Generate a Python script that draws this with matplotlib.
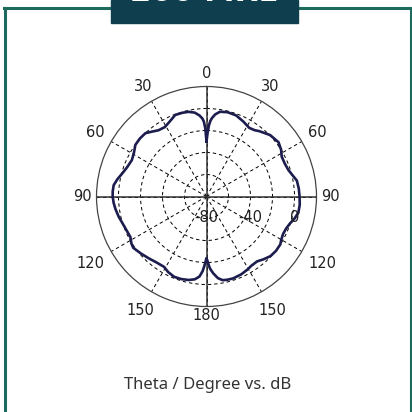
import numpy as np
import matplotlib
matplotlib.use('Agg')
import matplotlib.pyplot as plt
from matplotlib.lines import Line2D
from matplotlib.patches import Rectangle

# 방사 패턴 데이터 (theta: 도, gain: dB)
theta_deg = [0, 1, 2, 3, 4, 6, 9, 14, 20, 26, 32, 36, 39, 46, 53, 58, 62, 67, 72, 76,
             80, 85, 90, 95, 100, 104, 108, 112, 116, 120, 123, 128, 133, 138, 142, 147,
             151, 156, 162, 166, 169, 172, 175, 177, 178, 179, 180, 181, 182, 183, 185,
             188, 192, 197, 202, 207, 211, 217, 223, 229, 235, 238, 242, 250, 257, 262,
             266, 270, 273, 277, 281, 285, 290, 296, 301, 306, 311, 316, 320, 324, 329,
             334, 339, 344, 348, 352, 355, 357, 358, 359, 360]
gain_db = [-30, -22, -15, -11, -8.5, -5, -2, -1, -1.5, -4, -6.5, -5.5, -3.6, 0.4, 2, 0,
           -2.6, -2.8, -1.8, 0.5, 3.4, 4.2, 4.6, 5.1, 4.8, 2.5, -0.3, -2, -2.5, -1.5, 0,
           0.2, -0.5, -3, -5.2, -5, -3.8, -2.5, -1.7, -2, -2.5, -5, -9.9, -14, -17, -21,
           -24, -20, -16, -12, -7, -4, -2.4, -1.5, -1.3, -3, -5.3, -4.8, -3.1, -1, 1.3,
           0.5, -1.6, -0.5, 1.9, 3.5, 4.6, 5.3, 5.4, 5, 2.5, -0.4, -3, -4.5, -3, -0.1,
           0.3, 0, -3, -5.6, -6.4, -4, -0.6, -0.8, -1.3, -3, -6, -9, -12, -18, -30]

theta_ticks = [0, 30, 60, 90, 120, 150, 180, 210, 240, 270, 300, 330]
theta_labels = ['0', '30', '60', '90', '120', '150', '180', '150', '120', '90', '60', '30']
r_grid = [-60, -40, -20, 0]
r_labels = [-80, -40, 0]
r_min, r_max = -80, 20

header_text = '200 MHz'
caption = 'Theta / Degree vs. dB'

W = 412
fig = plt.figure(figsize=(4.12, 4.12), dpi=100)
fig.patch.set_facecolor('white')

# 카드 테두리
green = '#1d6b5c'
def px(x, y):
    return x / W, 1 - y / W
fig.add_artist(Line2D([px(4.5, 0)[0], px(4.5, 0)[0]], [px(0, 7.5)[1], 0], color=green, lw=2.2))
fig.add_artist(Line2D([px(410.5, 0)[0], px(410.5, 0)[0]], [px(0, 7.5)[1], 0], color=green, lw=2.2))
fig.add_artist(Line2D([px(3.5, 0)[0], 1], [px(0, 7.5)[1], px(0, 7.5)[1]], color=green, lw=2.2))

# 상단 헤더 박스 (제목은 위쪽이 잘려 있음)
fig.add_artist(Rectangle(px(111, 23), (298 - 111) / W, 23 / W, color='#0f3e4e', zorder=5))
fig.text(px(204, 0)[0], px(0, 1)[1], header_text, ha='center', va='baseline',
         color='white', fontsize=22, fontweight='bold', zorder=6)

# 극좌표 축
cx, cy, R = 206.5, 196.5, 110
ax = fig.add_axes([(cx - R) / W, (W - cy - R) / W, 2 * R / W, 2 * R / W], projection='polar')
ax.set_theta_zero_location('N')
ax.set_theta_direction(-1)
ax.set_rlim(r_min, r_max)
ax.set_facecolor('white')

ax.set_thetagrids(theta_ticks, labels=['' for _ in theta_ticks])
ax.set_rgrids(r_grid, labels=['' for _ in r_grid])
ax.grid(True, color='black', linestyle=(0, (3.5, 3)), linewidth=0.7)
ax.spines['polar'].set_color('#444')
ax.spines['polar'].set_linewidth(0.9)

# 각도 라벨: 원 바깥쪽 거리(px)
label_gap = [13.5, 17, 18, 14, 24, 21.5, 8.5, 21.5, 24, 14, 18, 17]
for a, lab, g in zip(theta_ticks, theta_labels, label_gap):
    t = np.deg2rad(a)
    ax.annotate(lab, xy=(t, r_max), xytext=(g * np.sin(t), g * np.cos(t)),
                textcoords='offset pixels', ha='center', va='center',
                fontsize=10.5, color='#222', annotation_clip=False)

# 0/90/180/270 실선 축
for a in [0, 90, 180, 270]:
    ax.plot([np.deg2rad(a), np.deg2rad(a)], [r_min, r_max], color='#333', lw=1.1, zorder=2)

ax.plot(np.deg2rad(theta_deg), gain_db, color='#1c1c4e', lw=1.9, zorder=4)

for r in r_labels:
    ax.annotate(str(r), xy=(np.deg2rad(90), r), xytext=(0, -21), textcoords='offset pixels',
                ha='center', va='center', fontsize=10.5, color='#222', zorder=5)

fig.text(px(208, 0)[0], px(0, 385)[1], caption, ha='center', va='center',
         fontsize=12, color='#333', family='Noto Sans')

fig.savefig('out.png', dpi=100)
